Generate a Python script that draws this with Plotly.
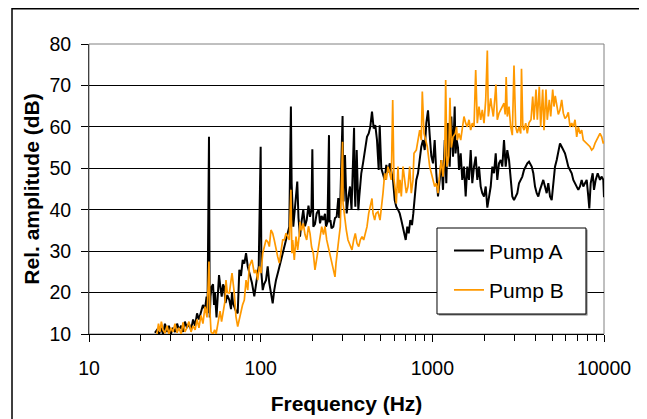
import plotly.graph_objects as go

# ---- data ----
freq_a = [24.2, 24.9, 25.6, 26.3, 27.0, 27.7, 28.5, 29.2, 30.0, 30.8, 31.7, 32.6, 33.4, 34.4, 35.3, 36.2,
          37.2, 38.2, 39.3, 40.4, 41.5, 42.6, 43.7, 44.9, 46.1, 47.4, 48.4, 49.0, 50.0, 50.5, 51.0, 51.8,
          52.8, 53.5, 54.2, 55.3, 56.4, 57.2, 58.4, 59.3, 60.4, 61.2, 62.4, 63.9, 65.7, 67.2, 68.1, 69.0,
          70.2, 71.8, 73.5, 74.3, 75.1, 76.8, 78.6, 80.3, 82.2, 84.1, 85.8, 87.8, 89.0, 91.8, 94.8, 97.4,
          100, 101, 102.8, 104.6, 107.4, 109.9, 112.3, 114.8, 117.5, 120, 122.8, 127.3, 131.4, 135.5,
          140.5, 143.7, 146.8, 150, 151.5, 154.9, 159.1, 163.4, 166.1, 169.5, 172.9, 177.1, 181.2, 185.4,
          189.9, 193.8, 197.7, 200, 202.6, 207.2, 212, 217.8, 221.7, 226.2, 231.7, 237, 240.2, 245.1, 250,
          252, 255, 258.5, 264.9, 271, 277.2, 283.2, 286.7, 289.8, 300, 303.7, 309.9, 317, 324.8, 331.4,
          338.2, 350, 353, 356, 362.6, 366.5, 370.5, 375.4, 385.6, 394.5, 403.6, 416.3, 425.9, 435.1,
          445.1, 455.4, 465.3, 476, 487, 493.6, 504.3, 516, 527.9, 539.4, 551.7, 564.5, 576.7, 590, 603.7,
          616.8, 631, 645.5, 659.5, 674.7, 690.3, 699.7, 714.8, 728.4, 744.2, 761.3, 774.7, 789.4, 806.6,
          825.1, 844.2, 862.5, 882.4, 902.8, 922.4, 943.6, 965.3, 986.2, 1009, 1032, 1055, 1079, 1104,
          1128, 1154, 1181, 1206, 1234, 1262, 1290, 1320, 1350, 1365, 1387, 1411, 1430, 1463, 1494, 1529,
          1564, 1598, 1635, 1673, 1709, 1749, 1789, 1828, 1870, 1913, 1954, 2000, 2046, 2091, 2139, 2188,
          2236, 2287, 2340, 2390, 2445, 2502, 2556, 2615, 2675, 2733, 2797, 2861, 2923, 2990, 3059, 3126,
          3198, 3272, 3342, 3420, 3499, 3575, 3658, 3707, 3793, 3875, 3965, 4056, 4144, 4237, 4335, 4429,
          4531, 4636, 4737, 4847, 4958, 5066, 5183, 5303, 5418, 5542, 5670, 5793, 5926, 6064, 6195, 6338,
          6485, 6626, 6778, 6935, 7085, 7247, 7414, 7575, 7749, 7929, 8100, 8210, 8365, 8593, 8745, 8946,
          9189, 9478, 9697, 9907, 10000]
level_a = [10.3, 11, 10, 11.5, 10, 12.5, 10.5, 12, 10, 11.5, 10.5, 12.5, 11, 12, 10.5, 13,
           11.5, 12.5, 11, 13.5, 12, 15, 13.5, 15, 17, 16, 19, 15, 57.6, 14, 19, 21.4,
           22, 17, 19.9, 14, 20, 24.2, 21, 19, 22, 21.4, 17.5, 19.4, 18.2, 16, 20, 17.5,
           16.6, 15.5, 15, 19, 25.5, 24, 27.9, 27, 29.5, 26.3, 24.7, 23.5, 22.3, 19.1, 23, 26.3,
           55.2, 24.7, 20.6, 22, 23, 26.3, 22.3, 19.9, 17.4, 20.6, 23, 25.5, 27.9, 30.3,
           32.7, 34.3, 35.9, 64.9, 46.4, 35.9, 40.7, 46.8, 38, 33.5, 37, 40, 36, 37.5,
           41, 38.3, 40, 54.6, 35.9, 36.5, 39.1, 40, 36.7, 38.5, 37.5, 39, 35.9, 37, 58,
           37, 37.5, 35.5, 35.9, 38, 38.3, 42.8, 38, 39.1, 62.6, 42, 53.2, 39.1, 43.2, 45.6,
           40, 59.8, 45, 40.7, 54.4, 46, 39.9, 43.2, 48.8, 51.2, 53.6, 57.6, 58.4, 60,
           63.7, 59.6, 60.4, 56.8, 49.6, 60.4, 50, 48.8, 47.2, 50.8, 49, 51.2, 48.8, 47.2, 42.3,
           40.7, 40, 39.1, 37.5, 35.5, 33.5, 32.7, 35.9, 34.3, 37.5, 36.3, 39.1, 42.3, 47.2,
           48.8, 52.8, 55.2, 56.8, 54.4, 60.9, 64, 58, 53, 51.2, 56.8, 48.8, 43.2, 47.2,
           52, 44.8, 56.8, 46.4, 60.9, 50.4, 62.5, 52.8, 64.9, 53.6, 56.8, 55, 49.6, 53.6, 47.2, 50.4,
           43.2, 50.4, 47.2, 54.4, 46.4, 50.4, 52.8, 47.2, 50.4, 45.6, 44, 43.2, 45.6, 40.5, 43.2, 45.6,
           50.4, 48.8, 53.6, 47.2, 51.2, 52, 50.4, 56.8, 50.4, 54.4, 52, 47.2, 43.2, 42.3, 43.2, 44,
           46.4, 47.2, 48, 49.6, 50.4, 51.2, 51.6, 51.2, 50.4, 48.8, 45.6, 44, 43.2, 44.8, 46.4, 47.2,
           45.6, 44, 46.4, 43.2, 42.3, 45.6, 50.4, 52, 53.6, 56, 55.2, 54.4, 53.6, 52, 50.4, 49.6,
           48.8, 47.2, 46.4, 45.6, 44.8, 45.6, 47.2, 45.6, 46.4, 47.2, 43.2, 40.3, 46.4, 48.8, 44.8, 47.2,
           48.8, 47.2, 48, 47.2, 43]

freq_b = [24.9, 25.4, 25.9, 26.4, 27.0, 27.7, 28.5, 29.2, 30.0, 30.8, 31.7, 32.6, 33.4, 34.4, 35.3, 36.2,
          37.2, 38.2, 39.3, 40.4, 41.5, 42.6, 43.7, 44.9, 46.1, 47.4, 48.7, 50.0, 50.7, 51.4, 52.8, 53.9,
          55.0, 56.4, 58.0, 59.2, 60.6, 62.0, 62.8, 63.9, 65.7, 68.1, 70.2, 71.8, 73.5, 75.1, 76.8, 78.4,
          80.3, 82.2, 84.1, 85.8, 89.0, 91.8, 93.9, 96.1, 98.2, 100.5, 102.8, 105, 107.4, 109.9, 112.3,
          114.8, 117.5, 120, 122.8, 125.6, 128.4, 131.4, 134.4, 137.3, 140.5, 143.7, 146.8, 150, 152,
          153.6, 157, 160.6, 164.3, 167.9, 169.5, 172.9, 177.1, 181.2, 185.4, 189.9, 193.8, 198, 202.6,
          207.2, 212, 216.6, 221.7, 226.8, 232.3, 237, 242.5, 247.8, 253.4, 258.5, 264.9, 271, 274.6,
          278.3, 284.8, 290.9, 300, 302, 308.6, 315.4, 322.6, 332.8, 340.4, 348.3, 355.8, 364, 372.5,
          380.5, 389.2, 398.2, 406.9, 416.3, 425.9, 435.1, 445.1, 451.2, 461.6, 469.7, 482.5, 495.6,
          504.3, 516, 527.9, 539.4, 551.7, 564.5, 576.7, 587.7, 598, 608.5, 616.8, 631, 639.5, 648.1,
          659.5, 674.7, 690.3, 705.4, 721.5, 738.2, 754.2, 771.6, 782, 806.6, 825.1, 844.2, 862.5, 874.1,
          894.3, 910, 934.8, 965.3, 986.2, 1009, 1032, 1055, 1079, 1104, 1128, 1154, 1181, 1196, 1217,
          1246, 1267, 1290, 1320, 1361, 1384, 1398, 1430, 1463, 1494, 1529, 1564, 1598, 1635, 1673, 1709,
          1749, 1789, 1828, 1870, 1913, 1954, 2000, 2046, 2091, 2119, 2148, 2188, 2218, 2266, 2309, 2346,
          2390, 2445, 2502, 2556, 2615, 2657, 2693, 2733, 2797, 2861, 2923, 2990, 3059, 3126, 3198, 3272,
          3307, 3365, 3420, 3499, 3575, 3658, 3757, 3844, 3912, 4018, 4089, 4198, 4277, 4394, 4471, 4593,
          4673, 4801, 4892, 5025, 5114, 5200, 5303, 5418, 5542, 5670, 5793, 5926, 6064, 6195, 6338, 6485,
          6626, 6778, 6935, 7085, 7247, 7414, 7575, 7929, 8287, 8479, 8663, 8862, 9067, 9478, 9697, 9907,
          10000]
level_b = [10, 12.5, 10.5, 13, 11, 10.2, 12, 10, 11.5, 10.5, 12.5, 10.3, 11.5, 10, 12.8, 10.5,
           11.5, 13, 10.5, 12, 11, 13.5, 11.5, 14.5, 12.5, 16.6, 14, 27.5, 15, 10.5, 10, 11,
           10, 12.5, 15.5, 13, 15.8, 18, 23, 20, 19.9, 24.7, 19.9, 14.2, 11.8, 13.4, 15.8, 17,
           18.2, 23, 20.6, 26.3, 27.9, 24.7, 25.5, 23, 26.3, 24.7, 29.5, 31.1, 32.7, 32.3, 31.1,
           35.1, 34.3, 32.7, 30.3, 28.7, 27.1, 30.3, 32.7, 32.7, 34.3, 33.5, 32.7, 44.8, 29.5,
           32.7, 27.9, 33.5, 30.3, 34, 37.1, 35, 36.7, 34, 32.7, 36, 34.3, 31, 29.5,
           25.5, 28, 31.1, 33, 35.9, 34, 36, 32.7, 31, 29.5, 28, 26.3, 23.8, 27,
           29.5, 32.7, 35.9, 56.4, 41.5, 37.5, 35.1, 32.7, 31.1, 30.3, 32.7, 34.3, 31.9, 31.1,
           32.7, 33.5, 32.7, 34.3, 35.9, 39.1, 40.7, 42.7, 39.1, 37.5, 39.1, 39.5, 37.5,
           40, 44, 48.8, 47.2, 50.4, 48.8, 47.2, 66.5, 47.2, 44.8, 41.5, 50.4, 44, 47.2,
           43.2, 50.4, 47.2, 44, 45.6, 50.4, 44, 47.2, 53.6, 54.4, 56.8, 59.2, 56.8, 68.5,
           58.4, 56.8, 55.2, 50.4, 48.8, 47.2, 45.6, 46.4, 44, 48.8, 52, 48, 53, 71.3, 50.4,
           53, 67, 55, 57.6, 58.4, 60, 56.8, 58.4, 56.8, 59.2, 62.5, 60.9, 60, 61.7, 59.2, 60.9,
           60, 73.7, 60.9, 64.9, 61.7, 64.1, 60.9, 66.5, 78.4, 62.5, 64.1, 66.9, 64.9, 62.5, 66.5, 70.2,
           61.7, 63.3, 64.1, 64.9, 65.7, 63, 72, 62.5, 64.9, 60, 58, 74.8, 60, 58.5, 60, 58.4,
           74, 60, 59.2, 60.9, 58.4, 61, 61.7, 67.3, 61.7, 69, 61.7, 69.7, 60, 69, 59.2, 69,
           61.7, 66.5, 62.5, 69, 64.9, 67.5, 64.9, 63, 64.1, 66.5, 63.3, 62, 62.5, 63.5, 60, 60.9,
           60, 61.7, 57.6, 60, 58.4, 59.2, 56.8, 56, 55.2, 54.4, 54.8, 56, 56.8, 58.4, 57.6, 56,
           56.5]

series_names = ["Pump A", "Pump B"]
series_colors = ["#000000", "#FF9900"]
x_tick_vals = [10, 100, 1000, 10000]
x_tick_text = ["10", "100", "1000", "10000"]
x_minor_vals = [20, 30, 40, 50, 60, 70, 80, 90, 200, 300, 400, 500, 600, 700, 800, 900,
                2000, 3000, 4000, 5000, 6000, 7000, 8000, 9000]
y_tick_vals = [10, 20, 30, 40, 50, 60, 70, 80]

FONT = "Arial, Liberation Sans, sans-serif"

fig = go.Figure()
fig.add_trace(go.Scatter(x=freq_a, y=level_a, mode="lines", name=series_names[0],
                         line=dict(color=series_colors[0], width=2), legendgroup="a"))
fig.add_trace(go.Scatter(x=freq_b, y=level_b, mode="lines", name=series_names[1],
                         line=dict(color=series_colors[1], width=1.7), legendgroup="b"))

fig.update_layout(
    width=639, height=411,
    margin=dict(l=81, r=43, t=36, b=85),
    paper_bgcolor="white", plot_bgcolor="white",
    font=dict(family=FONT, size=19.5, color="black"),
    showlegend=True,
    legend=dict(x=0.699, y=0.357, xanchor="left", yanchor="top",
                bgcolor="rgba(0,0,0,0)", borderwidth=0,
                font=dict(family=FONT, size=21, color="black"),
                tracegroupgap=9),
    xaxis=dict(type="log", range=[1, 4], tickmode="array", tickvals=x_tick_vals, ticktext=x_tick_text,
               automargin=False,
               ticks="outside", ticklen=7, tickwidth=1, tickcolor="black",
               minor=dict(tickmode="array", tickvals=x_minor_vals, ticks="outside", ticklen=6,
                          tickwidth=1, tickcolor="black", showgrid=False),
               showgrid=False, showline=True, linecolor="black", linewidth=1,
               ticklabelstandoff=10, tickfont=dict(size=19.5),
               title=dict(text="Frequency (Hz)", font=dict(size=21, weight="bold"), standoff=17)),
    xaxis2=dict(type="log", range=[1, 4], overlaying="x", anchor="y", side="bottom",
                tickmode="array", tickvals=x_tick_vals, showticklabels=False, automargin=False,
                ticks="inside", ticklen=5, tickwidth=1, tickcolor="black",
                minor=dict(tickmode="array", tickvals=x_minor_vals, ticks="inside", ticklen=5,
                           tickwidth=1, tickcolor="black", showgrid=False),
                showgrid=False, showline=False, zeroline=False),
    yaxis=dict(range=[10, 80], tickmode="array", tickvals=y_tick_vals, automargin=False,
               ticks="outside", ticklen=7, tickwidth=1, tickcolor="black",
               showgrid=True, gridcolor="black", gridwidth=1, zeroline=False,
               showline=True, linecolor="#404040", linewidth=1,
               ticklabelstandoff=6, tickfont=dict(size=19.5),
               title=dict(text="Rel. amplitude (dB)", font=dict(size=21, weight="bold"), standoff=4)),
    shapes=[
        # plot-area frame (grey)
        dict(type="rect", xref="x domain", yref="y domain", x0=0, x1=1, y0=0, y1=1,
             line=dict(color="#808080", width=1), layer="below"),
        # legend shadow
        dict(type="rect", xref="paper", yref="paper", x0=0.679, x1=0.968, y0=0.0635, y1=0.360,
             line=dict(width=0), fillcolor="#7f7f7f", layer="above"),
        # legend box
        dict(type="rect", xref="paper", yref="paper", x0=0.6757, x1=0.965, y0=0.069, y1=0.3655,
             line=dict(color="black", width=1), fillcolor="white", layer="above"),
        # outer chart border
        dict(type="rect", xref="paper", yref="paper", x0=-0.1495, x1=1.0757, y0=-0.35, y1=1.1216,
             line=dict(color="black", width=1.5), layer="above"),
    ],
)

fig.write_html("out.html")
